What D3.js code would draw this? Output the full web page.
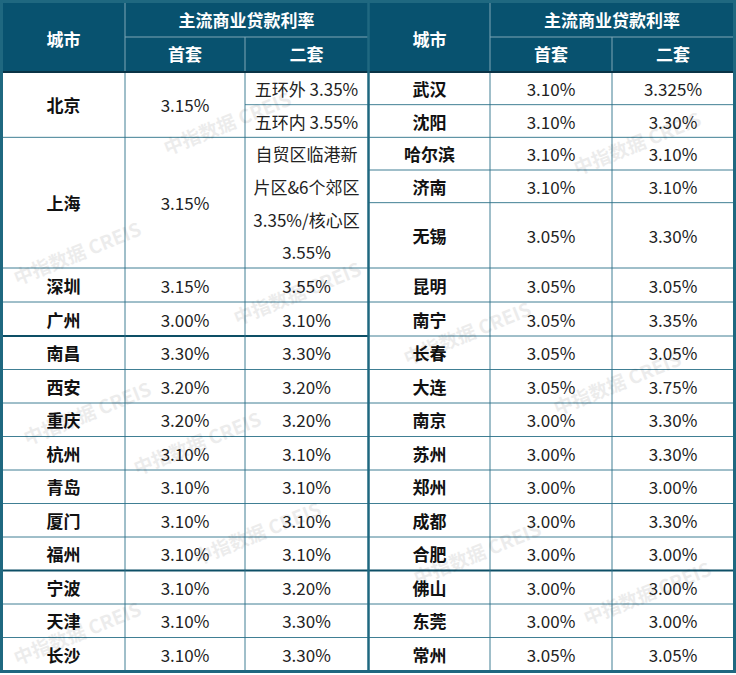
<!DOCTYPE html>
<html><head><meta charset="utf-8">
<script src="https://cdn.jsdelivr.net/npm/d3@7/dist/d3.min.js"></script>
<style>body{margin:0;background:#fff}</style></head>
<body><svg id="c" width="736" height="675"></svg>
<script>
// Left table
const leftCities=["北京","上海","深圳","广州","南昌","西安","重庆","杭州","青岛","厦门","福州","宁波","天津","长沙"];
const leftFirst=["3.15%","3.15%","3.15%","3.00%","3.30%","3.20%","3.20%","3.10%","3.10%","3.10%","3.10%","3.10%","3.10%","3.10%"];
const leftSecond=[["五环外 3.35%","五环内 3.55%"],["自贸区临港新","片区&6个郊区","3.35%/核心区","3.55%"],["3.55%"],["3.10%"],["3.30%"],["3.20%"],["3.20%"],["3.10%"],["3.10%"],["3.10%"],["3.10%"],["3.20%"],["3.30%"],["3.30%"]];
const leftSpan=[2,4,1,1,1,1,1,1,1,1,1,1,1,1];
const leftSection=[0,0,1,1,2,2,2,2,2,2,2,2,2,2];
// Right table
const rightCities=["武汉","沈阳","哈尔滨","济南","无锡","昆明","南宁","长春","大连","南京","苏州","郑州","成都","合肥","佛山","东莞","常州"];
const rightFirst=["3.10%","3.10%","3.10%","3.10%","3.05%","3.05%","3.05%","3.05%","3.05%","3.00%","3.00%","3.00%","3.00%","3.00%","3.00%","3.00%","3.05%"];
const rightSecond=["3.325%","3.30%","3.10%","3.10%","3.30%","3.05%","3.35%","3.05%","3.75%","3.30%","3.30%","3.00%","3.30%","3.00%","3.00%","3.00%","3.05%"];
const rightSpan=[1,1,1,1,2,1,1,1,1,1,1,1,1,1,1,1,1];
const rightSection=[0,0,0,0,0,1,1,2,2,2,2,2,2,2,2,2,2];
const thickAfterLeft=["广州","福州"], thickAfterRight=["合肥"];
const headers=["城市","主流商业贷款利率","首套","二套"];

const svg=d3.select("#c");
const F="'Noto Sans CJK SC','Noto Sans',sans-serif";
const HEAD="#08526f", LINE="#2a7088";
const FS=17;
const bounds=[72,268,336,671];
const halves=[{x:[2,125,245,368],cities:leftCities,first:leftFirst,second:leftSecond,span:leftSpan,sec:leftSection,thick:thickAfterLeft},
 {x:[369,490,612,734],cities:rightCities,first:rightFirst,second:rightSecond.map(d=>[d]),span:rightSpan,sec:rightSection,thick:thickAfterRight}];

halves.forEach(h=>{
 const [x0,x1,x2,x3]=h.x;
 const g=svg.append("g");
 g.append("rect").attr("x",x0).attr("y",1).attr("width",x3-x0).attr("height",71).attr("fill",HEAD);
 const ht=(t,x,y)=>g.append("text").attr("x",x).attr("y",y).attr("text-anchor","middle").attr("dominant-baseline","central")
   .attr("font-family",F).attr("font-weight","bold").attr("font-size",FS).attr("fill","#fff").text(t);
 ht(headers[0],(x0+x1)/2,38); ht(headers[1],(x1+x3)/2,19); ht(headers[2],(x1+x2)/2,53); ht(headers[3],(x2+x3)/2,53);
 g.append("line").attr("x1",x1).attr("x2",x3).attr("y1",37).attr("y2",37).attr("stroke","#7fa6b6").attr("stroke-width",1);
 [x1,x2].forEach((x,i)=>g.append("line").attr("x1",x).attr("x2",x).attr("y1",i?37:1).attr("y2",72).attr("stroke","#7fa6b6"));
 const rows=h.cities.map((c,i)=>({c,i,span:h.span[i],sec:h.sec[i]}));
 const secUnits=[0,1,2].map(s=>d3.sum(rows.filter(r=>r.sec===s),r=>r.span));
 const acc=[0,0,0];
 rows.forEach(r=>{
  const sc=d3.scaleLinear().domain([0,secUnits[r.sec]]).range([bounds[r.sec],bounds[r.sec+1]]);
  r.y0=sc(acc[r.sec]); acc[r.sec]+=r.span; r.y1=sc(acc[r.sec]);
 });
 const rg=g.selectAll("g.r").data(rows).join("g");
 rg.append("text").attr("x",(x0+x1)/2).attr("y",r=>(r.y0+r.y1)/2).attr("text-anchor","middle").attr("dominant-baseline","central")
  .attr("font-family",F).attr("font-weight","bold").attr("font-size",FS).attr("fill","#111").text(r=>r.c);
 rg.append("text").attr("x",(x1+x2)/2).attr("y",r=>(r.y0+r.y1)/2).attr("text-anchor","middle").attr("dominant-baseline","central")
  .attr("font-family",F).attr("font-size",FS).attr("fill","#222").text(r=>h.first[r.i]);
 rg.each(function(r){
  const lines=h.second[r.i]; const n=lines.length; const step=(r.y1-r.y0)/n;
  lines.forEach((t,k)=>{
   d3.select(this).append("text").attr("x",(x2+x3)/2).attr("y",r.y0+step*(k+0.5)).attr("text-anchor","middle").attr("dominant-baseline","central")
    .attr("font-family",F).attr("font-size",FS).attr("fill","#222").text(t);
  });
  if(h.second[r.i].length===2 && r.span===2){
   d3.select(this).append("line").attr("x1",x2).attr("x2",x3).attr("y1",(r.y0+r.y1)/2).attr("y2",(r.y0+r.y1)/2).attr("stroke",LINE).attr("stroke-width",0.8);
  }
  const thick=h.thick.includes(r.c);
  if(r.i<rows.length-1) d3.select(this).append("line").attr("x1",x0).attr("x2",x3).attr("y1",r.y1).attr("y2",r.y1)
   .attr("stroke",thick?"#0d4f66":LINE).attr("stroke-width",thick?2:0.9);
 });
 [x1,x2].forEach(x=>g.append("line").attr("x1",x).attr("x2",x).attr("y1",72).attr("y2",671).attr("stroke",LINE).attr("stroke-width",0.9));
 g.append("line").attr("x1",x0).attr("x2",x3).attr("y1",72).attr("y2",72).attr("stroke","#0a3346").attr("stroke-width",2);
});

// watermarks
const wm=svg.append("g");
[[230,130],[80,260],[300,300],[90,420],[260,540],[80,640],[640,150],[470,340],[620,390],[480,560],[650,600],[200,450]].forEach(([x,y])=>{
 wm.append("text").attr("transform",`translate(${x},${y}) rotate(-22)`).attr("text-anchor","middle")
 .attr("font-family",F).attr("font-size",19).attr("font-weight","bold").attr("fill","#000").attr("opacity",0.07).text("中指数据 CREIS");
});
svg.append("rect").attr("x",1.5).attr("y",1.5).attr("width",733).attr("height",670).attr("fill","none").attr("stroke","#1f6880").attr("stroke-width",3);
svg.append("line").attr("x1",368.5).attr("x2",368.5).attr("y1",1).attr("y2",672).attr("stroke","#1f6880").attr("stroke-width",2.5);
</script></body></html>
